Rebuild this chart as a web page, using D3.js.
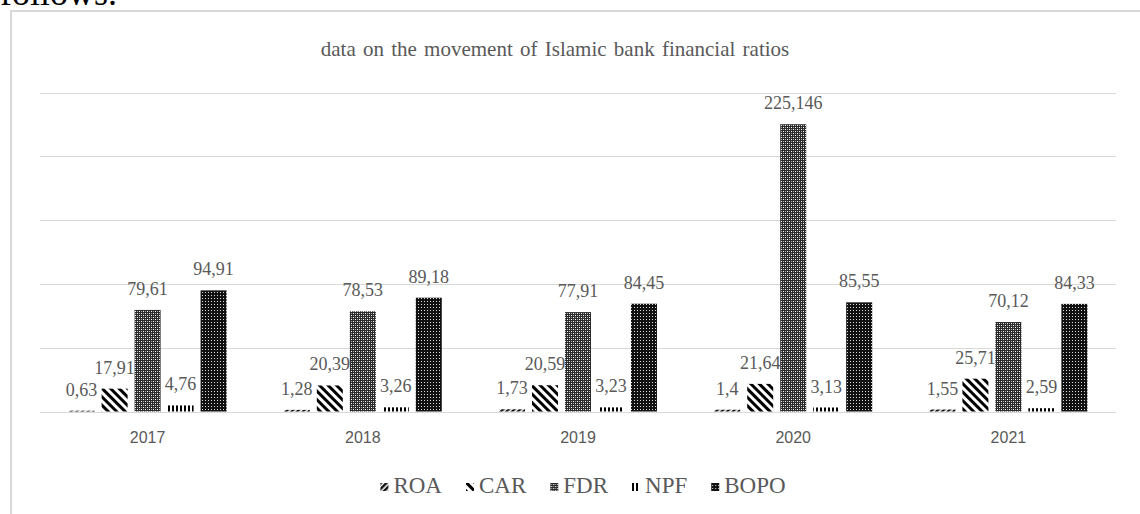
<!DOCTYPE html>
<html>
<head>
<meta charset="utf-8">
<script src="https://cdn.jsdelivr.net/npm/d3@7"></script>
<style>
  body { margin: 0; background: #fff; }
  svg { display: block; }
</style>
</head>
<body>
<div id="chart"></div>
<script>
const years = ['2017', '2018', '2019', '2020', '2021'];
const seriesNames = ['ROA', 'CAR', 'FDR', 'NPF', 'BOPO'];
const roa = [0.63, 1.28, 1.73, 1.4, 1.55];
const car = [17.91, 20.39, 20.59, 21.64, 25.71];
const fdr = [79.61, 78.53, 77.91, 225.146, 70.12];
const npf = [4.76, 3.26, 3.23, 3.13, 2.59];
const bopo = [94.91, 89.18, 84.45, 85.55, 84.33];
const yTicks = [0, 50, 100, 150, 200, 250];

let w = 1140;
let h = 514;
let plotLeft = 40;
let plotRight = 1116;
let plotTop = 92.5;
let plotBottom = 411.5;
let grey = '#595959';

let values = [roa, car, fdr, npf, bopo];

let svg = d3.select('#chart').
append('svg').
attr('width', w).
attr('height', h);

// hatch patterns, one per series
let defs = svg.append('defs');

let pRoa = defs.append('pattern').
attr('id', 'p-ROA').
attr('patternUnits', 'userSpaceOnUse').
attr('width', 4).
attr('height', 4).
attr('patternTransform', 'rotate(45)');
pRoa.append('rect').attr('width', 4).attr('height', 4).attr('fill', '#fff');
pRoa.append('rect').attr('width', 2.5).attr('height', 4).attr('fill', '#111');

let pCar = defs.append('pattern').
attr('id', 'p-CAR').
attr('patternUnits', 'userSpaceOnUse').
attr('width', 6).
attr('height', 6).
attr('patternTransform', 'rotate(-45)');
pCar.append('rect').attr('width', 6).attr('height', 6).attr('fill', '#fff');
pCar.append('rect').attr('width', 3).attr('height', 6).attr('fill', '#000');

let pFdr = defs.append('pattern').
attr('id', 'p-FDR').
attr('patternUnits', 'userSpaceOnUse').
attr('width', 4).
attr('height', 4);
pFdr.append('rect').attr('width', 4).attr('height', 4).attr('fill', '#2a2a2a');
[[1, 1], [3, 3]].forEach(d => {
  pFdr.append('rect').attr('x', d[0]).attr('y', d[1]).attr('width', 1).attr('height', 1).attr('fill', '#fff');
});
[[1, 3], [3, 1]].forEach(d => {
  pFdr.append('rect').attr('x', d[0]).attr('y', d[1]).attr('width', 1).attr('height', 1).attr('fill', '#aaa');
});

let pNpf = defs.append('pattern').
attr('id', 'p-NPF').
attr('patternUnits', 'userSpaceOnUse').
attr('width', 4).
attr('height', 4);
pNpf.append('rect').attr('width', 4).attr('height', 4).attr('fill', '#fff');
pNpf.append('rect').attr('width', 2).attr('height', 4).attr('fill', '#000');

let pBopo = defs.append('pattern').
attr('id', 'p-BOPO').
attr('patternUnits', 'userSpaceOnUse').
attr('width', 3).
attr('height', 3);
pBopo.append('rect').attr('width', 3).attr('height', 3).attr('fill', '#111');
pBopo.append('rect').attr('x', 1).attr('y', 1).attr('width', 1).attr('height', 1).attr('fill', '#ddd');

// text above the frame, cut off by the page edge
svg.append('text').
text('follows.').
attr('x', 0).
attr('y', 5).
attr('font-family', 'Liberation Serif').
attr('font-size', 36).
attr('fill', '#000');

// chart frame
svg.append('rect').
attr('x', 11).
attr('y', 11).
attr('width', 1200).
attr('height', 600).
attr('fill', 'none').
attr('stroke', '#d9d9d9').
attr('stroke-width', 2);

svg.append('text').
text('data on the movement of Islamic bank financial ratios').
attr('x', 555).
attr('y', 56).
attr('text-anchor', 'middle').
attr('font-family', 'Liberation Serif').
attr('font-size', 21).
attr('word-spacing', 2).
attr('fill', grey);

let yScale = d3.scaleLinear().
domain([0, 250]).
range([plotBottom, plotTop]);

let xScale = d3.scaleBand().
domain(years).
range([plotLeft, plotRight]).
paddingInner(0.266).
paddingOuter(0.133);

let xInner = d3.scaleBand().
domain(seriesNames).
range([0, xScale.bandwidth()]).
paddingInner(0.212);

svg.append('g').
selectAll('line').
data(yTicks).
enter().
append('line').
attr('x1', plotLeft).
attr('x2', plotRight).
attr('y1', d => Math.round(yScale(d)) + 0.5).
attr('y2', d => Math.round(yScale(d)) + 0.5).
attr('stroke', '#d9d9d9').
attr('stroke-width', 1);

let bars = [];
years.forEach((y, i) => {
  seriesNames.forEach((s, j) => {
    bars.push({ year: y, name: s, value: values[j][i] });
  });
});

svg.append('g').
selectAll('rect').
data(bars).
enter().
append('rect').
attr('x', d => xScale(d.year) + xInner(d.name)).
attr('y', d => yScale(d.value)).
attr('width', xInner.bandwidth()).
attr('height', d => yScale(0) - yScale(d.value)).
attr('fill', d => 'url(#p-' + d.name + ')');

svg.append('g').
selectAll('text').
data(bars).
enter().
append('text').
text(d => String(d.value).replace('.', ',')).
attr('x', d => xScale(d.year) + xInner(d.name) + xInner.bandwidth() / 2).
attr('y', d => yScale(d.value) - 15).
attr('text-anchor', 'middle').
attr('font-family', 'Liberation Serif').
attr('font-size', 18).
attr('fill', grey);

let xAxis = d3.axisBottom(xScale).tickSize(0).tickPadding(20);

let gx = svg.append('g').
attr('transform', 'translate(0,' + plotBottom + ')').
call(xAxis);
gx.select('.domain').remove();
gx.selectAll('text').
attr('font-family', 'Liberation Sans').
attr('font-size', 16).
attr('fill', grey);

// legend
let legend = svg.append('g');
let lx = 0;
seriesNames.forEach(s => {
  let item = legend.append('g').attr('transform', 'translate(' + lx + ',0)');
  item.append('rect').
  attr('x', 0).
  attr('y', -10).
  attr('width', 8).
  attr('height', 8).
  attr('fill', 'url(#p-' + s + ')');
  let t = item.append('text').
  text(s).
  attr('x', 13).
  attr('y', 0).
  attr('font-family', 'Liberation Serif').
  attr('font-size', 23).
  attr('fill', grey);
  lx += 13 + t.node().getComputedTextLength() + 24;
});
let lw = lx - 24;
legend.attr('transform', 'translate(' + (583 - lw / 2) + ',493)');
</script>
</body>
</html>
